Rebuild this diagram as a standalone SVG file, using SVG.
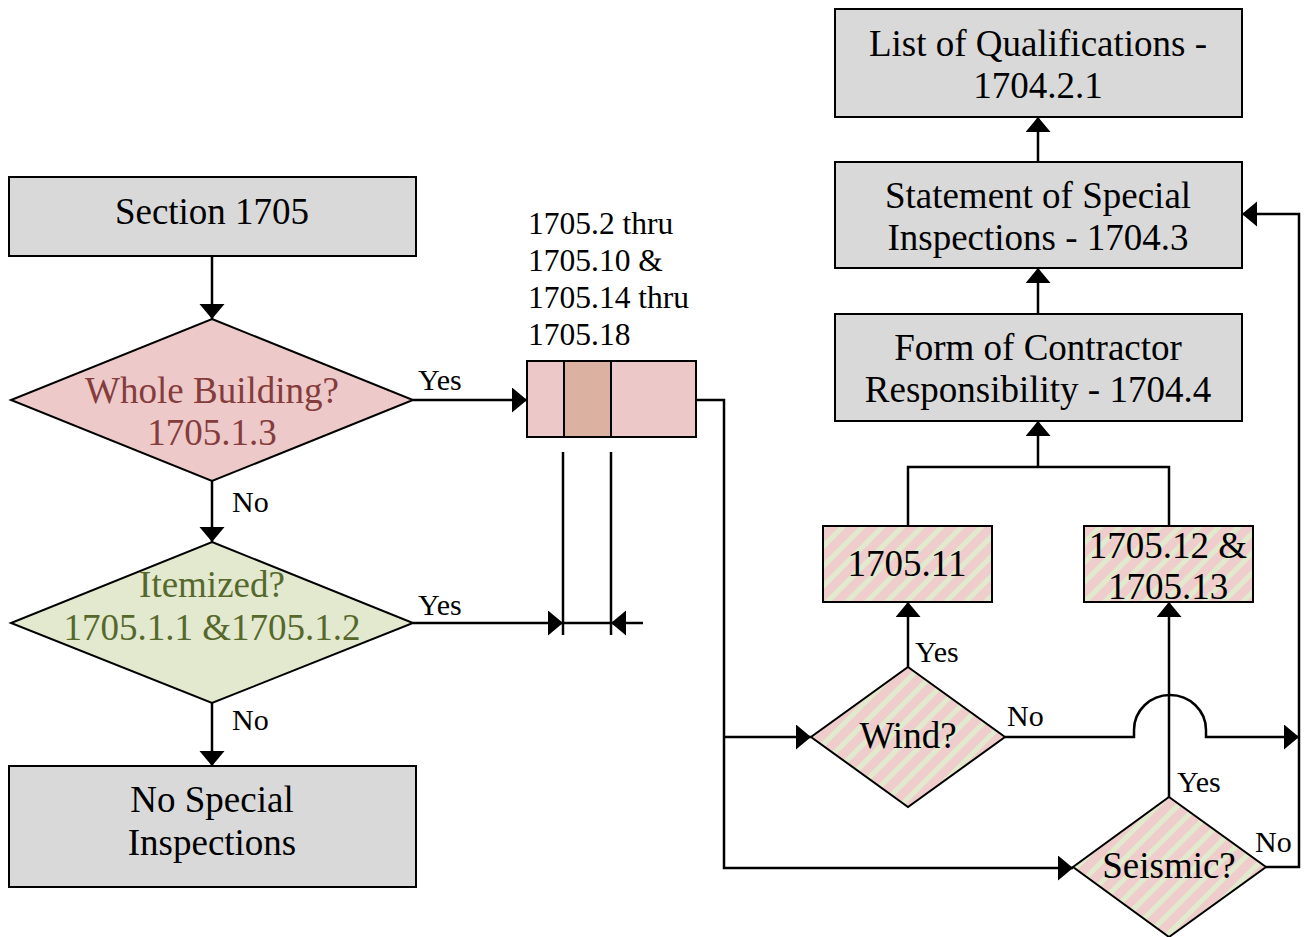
<svg xmlns="http://www.w3.org/2000/svg" width="1306" height="937" viewBox="0 0 1306 937">
<style>
text{font-family:"Liberation Serif","Times New Roman",serif;font-size:37px;fill:#000}
.c{text-anchor:middle}
.lbl{font-size:30px}
.sm{font-size:31.5px}
.box{fill:#d9d9d9;stroke:#000;stroke-width:2}
.stripe{fill:url(#stripes);stroke:#000;stroke-width:2}
.ln{fill:none;stroke:#000;stroke-width:2.5}
</style>
<defs>
<pattern id="stripes" patternUnits="userSpaceOnUse" width="14" height="14" patternTransform="rotate(45)">
<rect width="14" height="14" fill="#f0cdcd"/>
<rect x="0" width="5" height="14" fill="#e1eacd"/>
</pattern>
<marker id="ar" markerUnits="userSpaceOnUse" markerWidth="16" markerHeight="26" refX="15" refY="12.5" orient="auto" viewBox="0 0 16 26">
<path d="M0,0 L15,12.5 L0,25 z" fill="#000"/>
</marker>
</defs>

<g id="connectors">
<line class="ln" x1="212" y1="256" x2="212" y2="319" marker-end="url(#ar)"/>
<line class="ln" x1="212" y1="481" x2="212" y2="542" marker-end="url(#ar)"/>
<line class="ln" x1="212" y1="703" x2="212" y2="766" marker-end="url(#ar)"/>
<line class="ln" x1="413" y1="400" x2="527" y2="400" marker-end="url(#ar)"/>
<line class="ln" x1="413" y1="623" x2="563" y2="623" marker-end="url(#ar)"/>
<line class="ln" x1="643" y1="623" x2="611" y2="623" marker-end="url(#ar)"/>
<line class="ln" x1="563" y1="623" x2="611" y2="623"/>
<line class="ln" x1="563" y1="452" x2="563" y2="635"/>
<line class="ln" x1="611" y1="452" x2="611" y2="635"/>
<polyline class="ln" points="696,400 724,400 724,868 1073,868" marker-end="url(#ar)"/>
<line class="ln" x1="724" y1="737" x2="811" y2="737" marker-end="url(#ar)"/>
<line class="ln" x1="908" y1="667" x2="908" y2="602" marker-end="url(#ar)"/>
<line class="ln" x1="1169" y1="797" x2="1169" y2="602" marker-end="url(#ar)"/>
<path class="ln" d="M1005,737 H1134 V730 A35,34 0 0 1 1206,730 V737 H1299" marker-end="url(#ar)"/>
<polyline class="ln" points="1266,867 1299,867 1299,214 1242,214" marker-end="url(#ar)"/>
<polyline class="ln" points="908,526 908,467 1169,467 1169,526"/>
<line class="ln" x1="1038" y1="467" x2="1038" y2="421" marker-end="url(#ar)"/>
<line class="ln" x1="1038" y1="314" x2="1038" y2="268" marker-end="url(#ar)"/>
<line class="ln" x1="1038" y1="162" x2="1038" y2="117" marker-end="url(#ar)"/>
</g>

<g id="labels">
<text class="lbl" x="418" y="390">Yes</text>
<text class="lbl" x="418" y="615">Yes</text>
<text class="lbl" x="232" y="512">No</text>
<text class="lbl" x="232" y="730">No</text>
<text class="lbl" x="915" y="662">Yes</text>
<text class="lbl" x="1007" y="726">No</text>
<text class="lbl" x="1177" y="792">Yes</text>
<text class="lbl" x="1255" y="852">No</text>
</g>

<g id="section1705">
<rect class="box" x="9" y="177" width="407" height="79"/>
<text class="c" x="212" y="224">Section 1705</text>
</g>

<g id="whole-building">
<polygon points="212,319 413,400 212,481 11,400" fill="#edc9c9" stroke="#000" stroke-width="2"/>
<text class="c" x="212" y="403" style="fill:#843c3c">Whole Building?</text>
<text class="c" x="212" y="445" style="fill:#843c3c">1705.1.3</text>
</g>

<g id="itemized">
<polygon points="212,542 413,623 212,703 11,623" fill="#e2e9cf" stroke="#000" stroke-width="2"/>
<text class="c" x="212" y="597" style="fill:#56682c">Itemized?</text>
<text class="c" x="212" y="640" style="fill:#56682c">1705.1.1 &amp;1705.1.2</text>
</g>

<g id="no-special">
<rect class="box" x="9" y="766" width="407" height="121"/>
<text class="c" x="212" y="812">No Special</text>
<text class="c" x="212" y="855">Inspections</text>
</g>

<g id="sections-box">
<text class="sm" x="528" y="234">1705.2 thru</text>
<text class="sm" x="528" y="271">1705.10 &amp;</text>
<text class="sm" x="528" y="308">1705.14 thru</text>
<text class="sm" x="528" y="345">1705.18</text>
<rect x="527" y="361" width="169" height="76" fill="#ecc8c8" stroke="#000" stroke-width="2"/>
<rect x="564" y="361" width="47" height="76" fill="#dbb1a1" stroke="#000" stroke-width="2"/>
</g>

<g id="qualifications">
<rect class="box" x="835" y="9" width="407" height="108"/>
<text class="c" x="1038" y="56">List of Qualifications -</text>
<text class="c" x="1038" y="98">1704.2.1</text>
</g>

<g id="statement">
<rect class="box" x="835" y="162" width="407" height="106"/>
<text class="c" x="1038" y="208">Statement of Special</text>
<text class="c" x="1038" y="250">Inspections - 1704.3</text>
</g>

<g id="contractor">
<rect class="box" x="835" y="314" width="407" height="107"/>
<text class="c" x="1038" y="360">Form of Contractor</text>
<text class="c" x="1038" y="402">Responsibility - 1704.4</text>
</g>

<g id="s1705-11">
<rect class="stripe" x="823" y="526" width="169" height="76"/>
<text class="c" x="907" y="576">1705.11</text>
</g>

<g id="s1705-12">
<rect class="stripe" x="1084" y="526" width="169" height="76"/>
<text class="c" x="1168" y="558">1705.12 &amp;</text>
<text class="c" x="1168" y="599">1705.13</text>
</g>

<g id="wind">
<polygon class="stripe" points="908,667 1005,737 908,807 811,737"/>
<text class="c" x="908" y="748">Wind?</text>
</g>

<g id="seismic">
<polygon class="stripe" points="1169,797 1266,867 1169,937 1073,867"/>
<text class="c" x="1169" y="878">Seismic?</text>
</g>
</svg>
